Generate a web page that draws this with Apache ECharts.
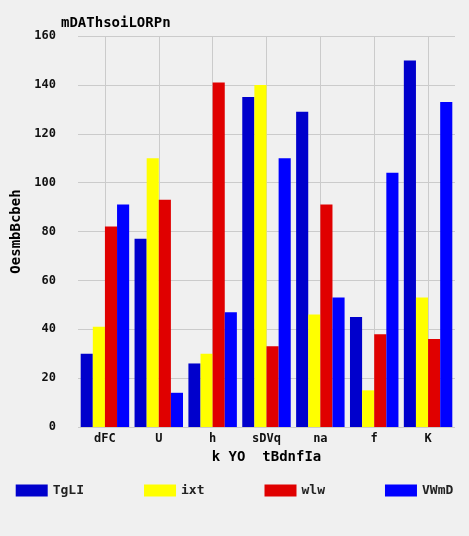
<!DOCTYPE html>
<html>
<head>
<meta charset="UTF-8">
<script src="https://cdn.jsdelivr.net/npm/echarts@6/dist/echarts.min.js"></script>
<style>html,body{margin:0;background:#f0f0f0}</style>
</head>
<body>
<div id="main" style="width:469px;height:536px;"></div>
<script>
var categories = ['dFC', 'U', 'h', 'sDVq', 'na', 'f', 'K'];
var seriesNames = ['TgLI', 'ixt', 'wlw', 'VWmD'];
var TgLI = [30, 77, 26, 135, 129, 45, 150];
var ixt = [41, 110, 30, 140, 46, 15, 53];
var wlw = [82, 93, 141, 33, 91, 38, 36];
var VWmD = [91, 14, 47, 110, 53, 104, 133];
var colors = ['#0000cc', '#ffff00', '#e00000', '#0000ff'];
var values = [TgLI, ixt, wlw, VWmD];

var font = 'DejaVu Sans Mono';
var chart = echarts.init(document.getElementById('main'));
var halfSlots = [];
for (var i = 0; i < 15; i++) halfSlots.push(i);

chart.setOption({
    backgroundColor: '#f0f0f0',
    textStyle: {fontFamily: font},
    title: {text: 'mDAThsoiLORPn', left: 56, top: 11,
        textStyle: {fontFamily: font, fontSize: 14, fontWeight: 'bold', color: '#000'}},
    grid: {left: 78, right: 14, top: 36, bottom: 109},
    legend: {bottom: 34, left: 'center', itemWidth: 32, itemHeight: 12, itemGap: 60, icon: 'rect',
        textStyle: {fontFamily: font, fontSize: 13, fontWeight: 'bold', color: '#222'},
        data: seriesNames},
    xAxis: [{
        type: 'category', data: categories,
        name: 'k YO  tBdnfIa', nameLocation: 'middle', nameGap: 22,
        nameTextStyle: {fontFamily: font, fontSize: 14, fontWeight: 'bold', color: '#000'},
        axisLine: {show: false}, axisTick: {show: false},
        axisLabel: {fontFamily: font, fontSize: 12, fontWeight: 'bold', color: '#111', margin: 6}
    }, {
        type: 'category', data: halfSlots, boundaryGap: false, show: true, position: 'bottom',
        axisLine: {show: false}, axisTick: {show: false}, axisLabel: {show: false},
        splitLine: {show: true, interval: function (idx) { return idx % 2 === 1; },
            lineStyle: {color: '#cbcbcb', width: 1}}
    }],
    yAxis: {
        type: 'value', min: 0, max: 160, interval: 20,
        name: 'OesmbBcbeh', nameLocation: 'middle', nameGap: 52,
        nameTextStyle: {fontFamily: font, fontSize: 14, fontWeight: 'bold', color: '#000'},
        axisLine: {show: false}, axisTick: {show: false},
        axisLabel: {fontFamily: font, fontSize: 12, fontWeight: 'bold', color: '#111', margin: 22},
        splitLine: {lineStyle: {color: '#cbcbcb', width: 1}}
    },
    series: seriesNames.map(function (n, k) {
        return {name: n, type: 'bar', data: values[k], xAxisIndex: 0,
            barGap: 0, barCategoryGap: '10%', itemStyle: {color: colors[k]}};
    })
});
</script>
</body>
</html>
